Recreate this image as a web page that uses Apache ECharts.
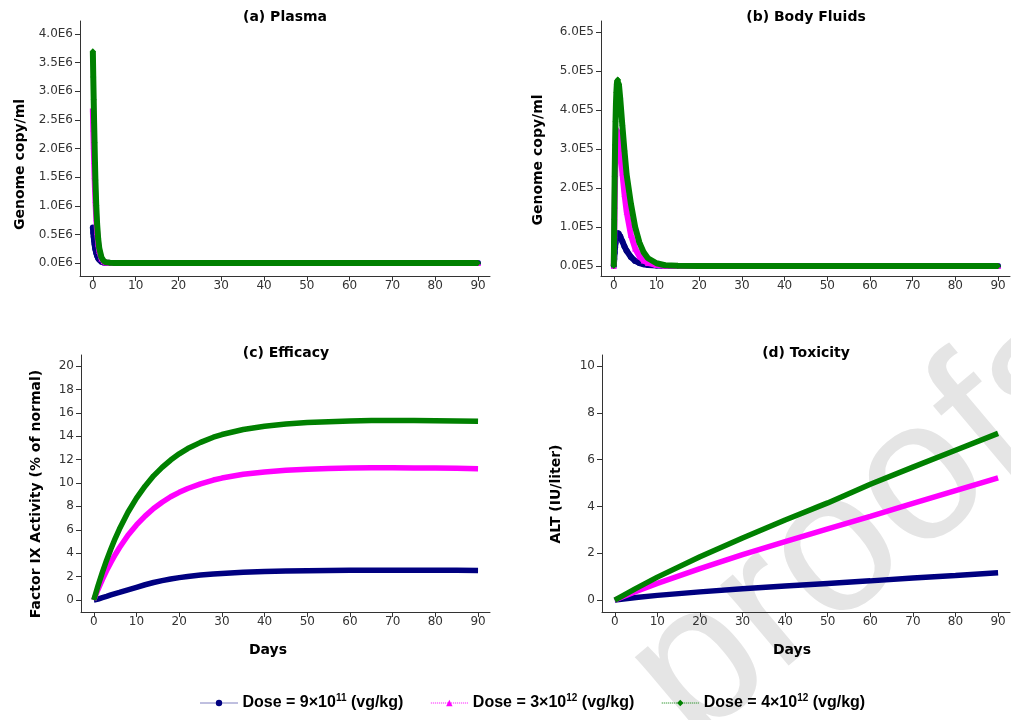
<!DOCTYPE html>
<html>
<head>
<meta charset="utf-8">
<script src="https://cdn.jsdelivr.net/npm/echarts@6/dist/echarts.min.js"></script>
<style>
  body { margin: 0; background: #fff; }
  #chart { width: 1011px; height: 720px; }
</style>
</head>
<body>
<div id="chart"></div>
<script>
// dose groups
const doseNames = ['Dose = 9×10¹¹ (vg/kg)', 'Dose = 3×10¹² (vg/kg)', 'Dose = 4×10¹² (vg/kg)'];
const doseLabels = ['Dose = 9×10{sup|11} (vg/kg)', 'Dose = 3×10{sup|12} (vg/kg)', 'Dose = 4×10{sup|12} (vg/kg)'];
const doseColors = ['#000080', '#ff00ff', '#008000'];
const doseSymbols = ['circle', 'triangle', 'diamond'];

const dayTicks = [0, 10, 20, 30, 40, 50, 60, 70, 80, 90];

// (a) plasma, genome copy/ml
const plasmaDays = [0, 0.1, 0.2, 0.3, 0.4, 0.5, 0.6, 0.8, 1, 1.25, 1.5, 2, 2.5, 3, 4, 5, 7, 10, 15, 20, 30, 40, 50, 60, 70, 80, 90];
const plasmaLow = [6.2e5, 5.3e5, 4.6e5, 3.9e5, 3.3e5, 2.8e5, 2.4e5, 1.75e5, 1.25e5, 8.5e4, 5.5e4, 2.2e4, 8e3, 3e3, 0, 0, 0, 0, 0, 0, 0, 0, 0, 0, 0, 0, 0];
const plasmaMid = [2.7e6, 2.35e6, 2.05e6, 1.78e6, 1.52e6, 1.3e6, 1.1e6, 7.8e5, 5.4e5, 3.4e5, 2.1e5, 8e4, 3e4, 1e4, 2e3, 0, 0, 0, 0, 0, 0, 0, 0, 0, 0, 0, 0];
const plasmaHigh = [3.7e6, 3.25e6, 2.85e6, 2.45e6, 2.1e6, 1.75e6, 1.45e6, 1.0e6, 6.8e5, 4.2e5, 2.6e5, 1.0e5, 4e4, 1.5e4, 3e3, 0, 0, 0, 0, 0, 0, 0, 0, 0, 0, 0, 0];
const plasmaTicks = [0, 0.5e6, 1.0e6, 1.5e6, 2.0e6, 2.5e6, 3.0e6, 3.5e6, 4.0e6];

// (b) body fluids, genome copy/ml
const fluidDays = [0, 0.1, 0.2, 0.3, 0.4, 0.5, 0.6, 0.7, 0.8, 0.9, 1, 1.2, 1.5, 2, 2.5, 3, 4, 5, 6, 7, 8, 10, 12, 15, 20, 30, 40, 50, 60, 70, 80, 90];
const fluidLow = [0, 1.8e4, 3.4e4, 4.8e4, 5.9e4, 6.8e4, 7.5e4, 8.0e4, 8.3e4, 8.4e4, 8.4e4, 8.2e4, 7.6e4, 6.3e4, 5.0e4, 3.9e4, 2.3e4, 1.3e4, 7.5e3, 4.5e3, 2.7e3, 1e3, 300, 100, 0, 0, 0, 0, 0, 0, 0, 0];
const fluidMid = [0, 8e4, 1.55e5, 2.2e5, 2.7e5, 3.1e5, 3.35e5, 3.48e5, 3.52e5, 3.5e5, 3.45e5, 3.3e5, 3.0e5, 2.4e5, 1.85e5, 1.4e5, 8e4, 4.5e4, 2.5e4, 1.4e4, 8e3, 2.5e3, 800, 200, 0, 0, 0, 0, 0, 0, 0, 0];
const fluidHigh = [0, 1.2e5, 2.3e5, 3.1e5, 3.7e5, 4.15e5, 4.45e5, 4.65e5, 4.75e5, 4.78e5, 4.77e5, 4.65e5, 4.3e5, 3.6e5, 2.95e5, 2.35e5, 1.6e5, 1.0e5, 6e4, 3.5e4, 2e4, 7e3, 2e3, 500, 0, 0, 0, 0, 0, 0, 0, 0];
const fluidTicks = [0, 1e5, 2e5, 3e5, 4e5, 5e5, 6e5];

// (c) efficacy, factor IX activity (% of normal)
const efficacyDays = [0, 1, 2, 3, 4, 5, 6, 8, 10, 12, 14, 16, 18, 20, 22, 25, 28, 30, 35, 40, 45, 50, 55, 60, 65, 70, 75, 80, 85, 90];
const efficacyLow = [0, 0.08, 0.2, 0.31, 0.43, 0.54, 0.64, 0.86, 1.08, 1.3, 1.49, 1.65, 1.79, 1.91, 2.01, 2.13, 2.22, 2.27, 2.37, 2.43, 2.47, 2.5, 2.52, 2.53, 2.54, 2.54, 2.54, 2.53, 2.53, 2.52];
const efficacyMid = [0, 0.91, 1.74, 2.51, 3.21, 3.87, 4.46, 5.53, 6.41, 7.17, 7.82, 8.35, 8.82, 9.2, 9.53, 9.93, 10.25, 10.42, 10.74, 10.94, 11.08, 11.17, 11.23, 11.27, 11.3, 11.3, 11.29, 11.27, 11.25, 11.22];
const efficacyHigh = [0, 1.23, 2.36, 3.4, 4.36, 5.25, 6.06, 7.5, 8.7, 9.73, 10.61, 11.33, 11.96, 12.49, 12.94, 13.47, 13.91, 14.14, 14.57, 14.85, 15.04, 15.16, 15.24, 15.3, 15.34, 15.35, 15.34, 15.32, 15.3, 15.27];
const efficacyTicks = [0, 2, 4, 6, 8, 10, 12, 14, 16, 18, 20];

// (d) toxicity, ALT (IU/liter)
const toxicityDays = [0, 5, 10, 20, 30, 40, 50, 60, 70, 80, 90];
const toxicityLow = [0, 0.11, 0.2, 0.35, 0.48, 0.6, 0.71, 0.82, 0.94, 1.05, 1.17];
const toxicityMid = [0, 0.37, 0.71, 1.34, 1.94, 2.5, 3.04, 3.58, 4.13, 4.68, 5.22];
const toxicityHigh = [0, 0.5, 0.98, 1.85, 2.65, 3.42, 4.15, 4.95, 5.68, 6.4, 7.12];
const toxicityTicks = [0, 2, 4, 6, 8, 10];

const plotFont = 'DejaVu Sans';
const axisColor = '#333';

const chart = echarts.init(document.getElementById('chart'), null, { renderer: 'canvas' });

const grids = [
  { left: 80, top: 21, width: 410, height: 255 },
  { left: 601, top: 21, width: 409, height: 255 },
  { left: 81, top: 355, width: 409, height: 257 },
  { left: 602, top: 355, width: 408, height: 257 }
];

const makeXAxis = (gridIndex, showName, namePad) => ({
  type: 'value',
  gridIndex,
  min: -3,
  max: 92.8,
  name: showName ? 'Days' : '',
  nameLocation: 'middle',
  nameGap: 31,
  nameTextStyle: { fontFamily: plotFont, fontWeight: 'bold', fontSize: 14, color: '#000', padding: [0, namePad || 0, 0, 0] },
  axisLine: { show: true, onZero: false, lineStyle: { color: axisColor, width: 1 } },
  axisTick: { show: true, length: 5, customValues: dayTicks, lineStyle: { color: axisColor } },
  axisLabel: { customValues: dayTicks, margin: 4, color: axisColor, fontFamily: plotFont, fontSize: 12 },
  splitLine: { show: false }
});

const makeYAxis = (gridIndex, name, min, max, ticks, gap, namePad, fmt) => ({
  type: 'value',
  gridIndex,
  min,
  max,
  name,
  nameLocation: 'middle',
  nameGap: gap,
  nameTextStyle: { fontFamily: plotFont, fontWeight: 'bold', fontSize: 14, color: '#000', padding: [0, namePad, 0, 0] },
  axisLine: { show: true, onZero: false, lineStyle: { color: axisColor, width: 1 } },
  axisTick: { show: true, length: 5, customValues: ticks, lineStyle: { color: axisColor } },
  axisLabel: { customValues: ticks, margin: 7, color: axisColor, fontFamily: plotFont, fontSize: 12, formatter: fmt },
  splitLine: { show: false }
});

const makeSeries = (k, gridIndex, days, values, withSymbols) => ({
  name: doseNames[k],
  type: 'line',
  xAxisIndex: gridIndex,
  yAxisIndex: gridIndex,
  data: days.map((d, i) => [d, values[i]]),
  symbol: doseSymbols[k],
  symbolSize: 6,
  showSymbol: withSymbols,
  showAllSymbol: true,
  lineStyle: { color: doseColors[k], width: withSymbols ? 6 : 5.5 },
  itemStyle: { color: doseColors[k] },
  emphasis: { disabled: true },
  z: 2 + k
});

const titleStyle = { fontFamily: plotFont, fontWeight: 'bold', fontSize: 14, color: '#000' };

const option = {
  backgroundColor: '#fff',
  animation: false,
  title: [
    { text: '(a) Plasma', left: 285, top: 10, textAlign: 'center', padding: 0, textStyle: titleStyle },
    { text: '(b) Body Fluids', left: 806, top: 10, textAlign: 'center', padding: 0, textStyle: titleStyle },
    { text: '(c) Efficacy', left: 286, top: 346, textAlign: 'center', padding: 0, textStyle: titleStyle },
    { text: '(d) Toxicity', left: 806, top: 346, textAlign: 'center', padding: 0, textStyle: titleStyle }
  ],
  legend: {
    data: doseNames,
    left: 200,
    top: 693,
    padding: 0,
    itemWidth: 37,
    itemHeight: 8,
    itemGap: 27,
    lineStyle: { width: 1, type: 'dotted' },
    formatter: name => doseLabels[doseNames.indexOf(name)],
    textStyle: {
      fontFamily: 'Liberation Sans', fontWeight: 'bold', fontSize: 16, lineHeight: 20, color: '#000',
      rich: {
        sup: { fontFamily: 'Liberation Sans', fontWeight: 'bold', fontSize: 10, lineHeight: 10, color: '#000', verticalAlign: 'top' }
      }
    }
  },
  graphic: [
    {
      type: 'text',
      x: 870,
      y: 525,
      rotation: 0.7,
      z: -10,
      silent: true,
      style: { text: 'proofs', fontSize: 200, fontFamily: 'Liberation Sans', fill: '#e5e5e5', align: 'center', verticalAlign: 'middle' }
    }
  ],
  grid: grids,
  xAxis: [
    makeXAxis(0, false),
    makeXAxis(1, false),
    makeXAxis(2, true, 35),
    makeXAxis(3, true, 28)
  ],
  yAxis: [
    makeYAxis(0, 'Genome copy/ml', -0.227e6, 4.227e6, plasmaTicks, 53, 32, v => (v / 1e6).toFixed(1) + 'E6'),
    makeYAxis(1, 'Genome copy/ml', -0.256e5, 6.28e5, fluidTicks, 56, 23, v => (v / 1e5).toFixed(1) + 'E5'),
    makeYAxis(2, 'Factor IX Activity (% of normal)', -1.03, 20.94, efficacyTicks, 38, 21, v => String(v)),
    makeYAxis(3, 'ALT (IU/liter)', -0.51, 10.47, toxicityTicks, 39, 21, v => String(v))
  ],
  series: [
    makeSeries(0, 0, plasmaDays, plasmaLow, true),
    makeSeries(1, 0, plasmaDays, plasmaMid, true),
    makeSeries(2, 0, plasmaDays, plasmaHigh, true),
    makeSeries(0, 1, fluidDays, fluidLow, true),
    makeSeries(1, 1, fluidDays, fluidMid, true),
    makeSeries(2, 1, fluidDays, fluidHigh, true),
    makeSeries(0, 2, efficacyDays, efficacyLow, false),
    makeSeries(1, 2, efficacyDays, efficacyMid, false),
    makeSeries(2, 2, efficacyDays, efficacyHigh, false),
    makeSeries(0, 3, toxicityDays, toxicityLow, false),
    makeSeries(1, 3, toxicityDays, toxicityMid, false),
    makeSeries(2, 3, toxicityDays, toxicityHigh, false)
  ]
};

chart.setOption(option);
window.addEventListener('resize', () => {
  chart.resize();
});
</script>
</body>
</html>
